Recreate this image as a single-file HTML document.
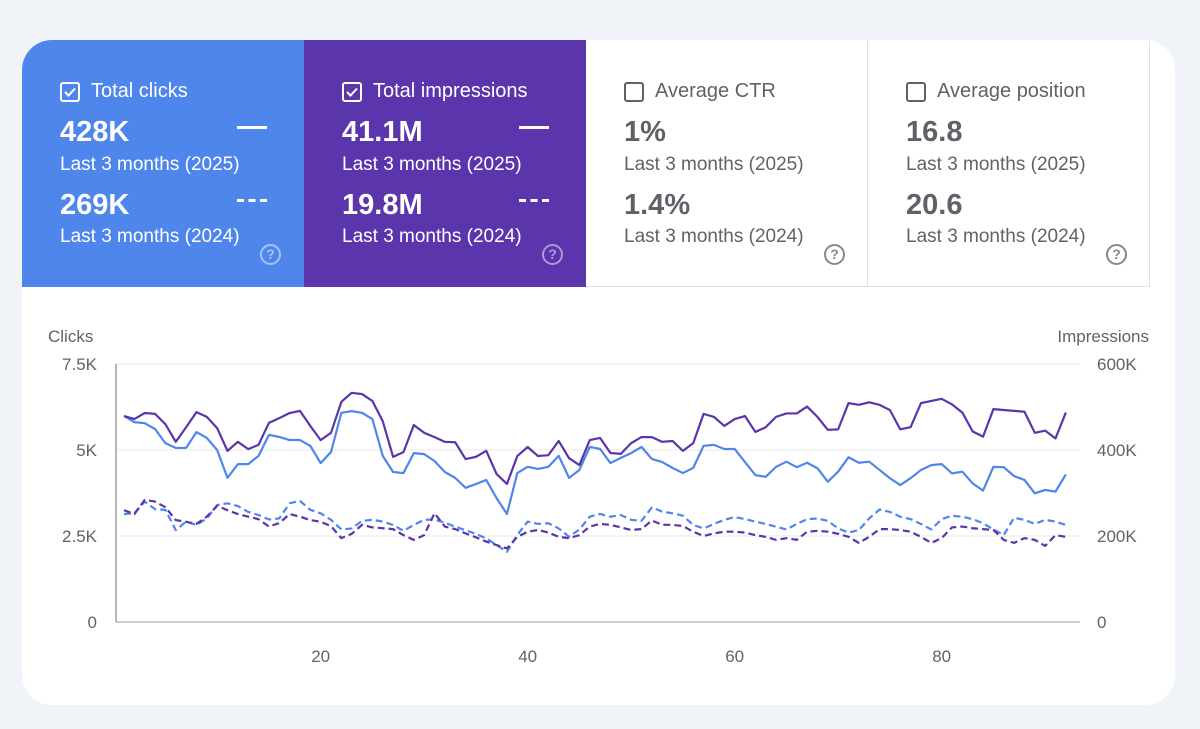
<!DOCTYPE html>
<html><head><meta charset="utf-8">
<style>
body{margin:0;width:1200px;height:729px;background:#f0f4f9;font-family:"Liberation Sans",sans-serif;overflow:hidden;position:relative}
.card{position:absolute;left:22px;top:40px;width:1153px;height:665px;background:#fff;border-radius:30px;overflow:hidden}
.tile{position:absolute;top:0;width:282px;height:247px;box-sizing:border-box}
.lab{position:absolute;left:38px;top:40px;font-size:20px;display:flex;align-items:center}
.cb{width:16px;height:16px;border:2px solid;border-radius:3px;margin-right:11px;position:relative}
.val{position:absolute;left:38px;font-size:29px;font-weight:bold}
.sub{position:absolute;left:38px;font-size:19px}
.help{position:absolute;left:238px;top:204px;width:17px;height:17px;border:2px solid;border-radius:50%;font-size:14px;text-align:center;line-height:17px;font-weight:bold}
.ind{position:absolute;left:215px;width:30px;height:0;border-top:3px solid #fff}
.dash{position:absolute;left:215px;width:30px;height:3px;background:repeating-linear-gradient(90deg,#fff 0 7px,transparent 7px 11.5px)}
.w{color:#fff}.g{color:#5f6368}
</style></head><body>
<div class="card">
 <div class="tile w" style="left:0;background:#4f86ec">
  <div class="lab"><div class="cb" style="border-color:#fff"><svg width="16" height="16" style="position:absolute;left:0;top:0"><path d="M3 8l3.5 3.5L13 4.5" stroke="#fff" stroke-width="2" fill="none"/></svg></div>Total clicks</div>
  <div class="val" style="top:76px">428K</div><div class="ind" style="top:86px"></div>
  <div class="sub" style="top:114px">Last 3 months (2025)</div>
  <div class="val" style="top:149px">269K</div><div class="dash" style="top:159px"></div>
  <div class="sub" style="top:186px">Last 3 months (2024)</div>
  <div class="help" style="border-color:rgba(255,255,255,.5);color:rgba(255,255,255,.5)">?</div>
 </div>
 <div class="tile w" style="left:282px;background:#5a35ab">
  <div class="lab"><div class="cb" style="border-color:#fff"><svg width="16" height="16" style="position:absolute;left:0;top:0"><path d="M3 8l3.5 3.5L13 4.5" stroke="#fff" stroke-width="2" fill="none"/></svg></div>Total impressions</div>
  <div class="val" style="top:76px">41.1M</div><div class="ind" style="top:86px"></div>
  <div class="sub" style="top:114px">Last 3 months (2025)</div>
  <div class="val" style="top:149px">19.8M</div><div class="dash" style="top:159px"></div>
  <div class="sub" style="top:186px">Last 3 months (2024)</div>
  <div class="help" style="border-color:rgba(255,255,255,.5);color:rgba(255,255,255,.5)">?</div>
 </div>
 <div class="tile g" style="left:564px;border-bottom:1px solid #e0e0e0;border-right:1px solid #e0e0e0">
  <div class="lab"><div class="cb" style="border-color:#5f6368"></div>Average CTR</div>
  <div class="val" style="top:76px">1%</div>
  <div class="sub" style="top:114px">Last 3 months (2025)</div>
  <div class="val" style="top:149px">1.4%</div>
  <div class="sub" style="top:186px">Last 3 months (2024)</div>
  <div class="help" style="border-color:#888;color:#888">?</div>
 </div>
 <div class="tile g" style="left:846px;width:282px;border-bottom:1px solid #e0e0e0;border-right:1px solid #e0e0e0">
  <div class="lab"><div class="cb" style="border-color:#5f6368"></div>Average position</div>
  <div class="val" style="top:76px">16.8</div>
  <div class="sub" style="top:114px">Last 3 months (2025)</div>
  <div class="val" style="top:149px">20.6</div>
  <div class="sub" style="top:186px">Last 3 months (2024)</div>
  <div class="help" style="border-color:#888;color:#888">?</div>
 </div>
</div>
<svg id="chart" width="1200" height="729" style="position:absolute;left:0;top:0"></svg>
<script>
const clicks2025=[5.99,5.81,5.78,5.61,5.2,5.06,5.06,5.52,5.35,5.0,4.19,4.59,4.59,4.83,5.44,5.38,5.29,5.29,5.12,4.62,4.94,6.08,6.13,6.08,5.9,4.83,4.36,4.33,4.91,4.88,4.68,4.36,4.19,3.90,4.01,4.13,3.60,3.14,4.33,4.51,4.45,4.51,4.83,4.19,4.42,5.09,5.03,4.62,4.77,4.91,5.09,4.74,4.65,4.48,4.33,4.48,5.12,5.15,5.03,5.03,4.65,4.27,4.22,4.51,4.66,4.50,4.63,4.47,4.08,4.37,4.79,4.63,4.66,4.42,4.18,3.98,4.18,4.42,4.56,4.59,4.32,4.37,4.03,3.82,4.51,4.50,4.24,4.13,3.74,3.84,3.79,4.29];
const impr2025=[479,472,486,484,460,419,453,488,477,451,398,419,402,412,463,474,486,491,456,423,440,512,533,530,514,467,384,395,458,440,430,419,418,379,384,398,344,321,386,407,386,388,421,381,365,423,428,393,391,416,430,430,419,421,398,416,484,477,456,472,479,442,453,477,485,485,501,477,447,448,509,505,511,505,493,448,453,509,514,519,506,487,443,431,495,493,491,489,440,445,427,487];
const clicks2024=[3.14,3.16,3.50,3.28,3.26,2.67,2.92,2.82,3.01,3.40,3.45,3.37,3.20,3.11,2.98,3.01,3.45,3.52,3.26,3.16,2.97,2.69,2.72,2.94,2.97,2.92,2.82,2.65,2.82,2.97,2.98,2.89,2.77,2.67,2.56,2.43,2.24,2.04,2.53,2.92,2.85,2.87,2.72,2.48,2.69,3.06,3.14,3.06,3.11,2.97,2.94,3.33,3.21,3.16,3.09,2.82,2.72,2.85,2.97,3.05,2.99,2.92,2.85,2.77,2.69,2.85,2.99,3.01,2.94,2.72,2.60,2.67,3.01,3.27,3.20,3.06,2.99,2.85,2.69,2.99,3.09,3.06,2.99,2.87,2.69,2.53,3.03,2.97,2.85,2.97,2.92,2.82];
const impr2024=[260,251,284,280,267,237,233,228,245,270,260,251,245,239,222,230,251,245,237,233,223,195,205,226,220,218,216,202,191,202,253,222,216,206,197,187,179,171,198,210,214,208,198,195,202,222,228,226,220,214,216,236,226,226,223,210,200,206,210,210,208,202,198,191,195,191,210,212,210,205,198,184,198,216,216,214,210,198,184,195,220,222,218,216,214,191,184,195,191,177,202,198];
const leftTicks=["0","2.5K","5K","7.5K"];
const rightTicks=["0","200K","400K","600K"];
const xTicks=[20,40,60,80];
const svg=document.getElementById('chart');const NS='http://www.w3.org/2000/svg';
const x=d=>124+(d-1)*10.35;
const yL=v=>622-v/7.5*258;
const yR=v=>622-v/600*258;
function mk(t,a){const e=document.createElementNS(NS,t);for(const k in a)e.setAttribute(k,a[k]);svg.appendChild(e);return e;}
function txt(s,a){const e=mk('text',Object.assign({'font-size':17,fill:'#5f6368','font-family':'Liberation Sans, sans-serif'},a));e.textContent=s;return e;}
leftTicks.forEach((t,i)=>{const y=622-i*86;
 const g=mk('line',{x1:116,x2:1080,y1:y,y2:y,stroke:i==0?'#9e9e9e':'#e8e8e8','stroke-width':1});
 
 
 const l=txt(t,{x:97,y:y+6,'text-anchor':'end'});
 
 
 const r=txt(rightTicks[i],{x:1097,y:y+6});
 
 
});
const ax=mk('line',{x1:116,x2:116,y1:364,y2:622,stroke:'#9e9e9e','stroke-width':1.5});


xTicks.forEach(d=>{const l=txt(String(d),{x:x(d),y:662,'text-anchor':'middle'});
 
 });
const lt=txt('Clicks',{x:48,y:342});


const rt=txt('Impressions',{x:1149,y:342,'text-anchor':'end'});


function line(arr,yf,col,dash,name){const p=mk('polyline',{points:arr.map((v,i)=>x(i+1)+','+yf(v)).join(' '),fill:'none',stroke:col,'stroke-width':2.2,'stroke-linejoin':'round','stroke-dasharray':dash});
 
 }
line(clicks2024,yL,'#4f86ec','7 4','clicks-2024-line');
line(impr2024,yR,'#5a35ab','7 4','impressions-2024-line');
line(clicks2025,yL,'#4f86ec','none','clicks-2025-line');
line(impr2025,yR,'#5a35ab','none','impressions-2025-line');
</script>
</body></html>
